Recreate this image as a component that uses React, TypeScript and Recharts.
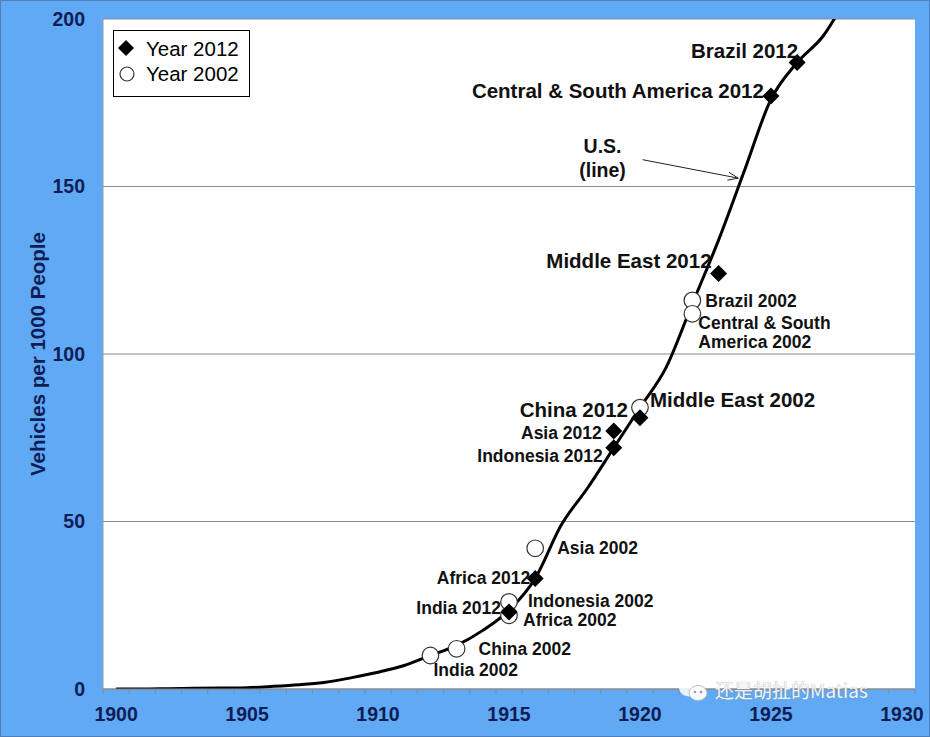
import React from 'react';
import { ComposedChart, Line, Scatter, XAxis, YAxis, CartesianGrid, Legend, ReferenceLine } from 'recharts';

// ---------- data ----------
const usYears = [1900, 1901, 1902, 1903, 1904, 1905, 1906, 1907, 1908, 1909, 1910, 1911, 1912, 1913, 1914, 1915, 1916, 1917, 1918, 1919, 1920, 1921, 1922, 1923, 1924, 1925, 1926, 1927, 1928];
const usValues = [0, 0, 0.1, 0.2, 0.3, 0.4, 0.8, 1.3, 2.0, 3.4, 5.0, 7.0, 10, 13, 17.5, 23.5, 33, 49, 60, 72, 84, 96, 115, 134, 155, 176, 187, 195, 208];

const names2012 = ['Brazil 2012', 'Central & South America 2012', 'Middle East 2012', 'China 2012', 'Asia 2012', 'Indonesia 2012', 'Africa 2012', 'India 2012'];
const years2012 = [1926, 1925, 1923, 1920, 1919, 1919, 1916, 1915];
const values2012 = [187, 177, 124, 81, 77, 72, 33, 23];

const names2002 = ['Brazil 2002', 'Central & South America 2002', 'Middle East 2002', 'Asia 2002', 'Indonesia 2002', 'Africa 2002', 'China 2002', 'India 2002'];
const years2002 = [1922, 1922, 1920, 1916, 1915, 1915, 1913, 1912];
const values2002 = [116, 112, 84, 42, 26, 22, 12, 10];

const xLabelYears = [1900, 1905, 1910, 1915, 1920, 1925, 1930];
const yTicks = [0, 50, 100, 150, 200];
const seriesNames = ['Year 2012', 'Year 2002'];
const yAxisTitle = 'Vehicles per 1000 People';
const annotationLines = ['U.S.', '(line)'];
const annotationFrom = { x: 1920.1, y: 158 };
const annotationTo = { x: 1923.75, y: 152.5 };
const watermark = '还是胡扯的Matias';

// ---------- derived tables ----------
const usData = usYears.map((x, i) => ({ x, y: usValues[i] }));
const data2012 = names2012.map((name, i) => ({ name, x: years2012[i], y: values2012[i] }));
const data2002 = names2002.map((name, i) => ({ name, x: years2002[i], y: values2002[i] }));
const minorTicks: number[] = [];
for (let y = 1899.5; y <= 1930.5; y += 1) minorTicks.push(y);
const allXTicks = [...minorTicks, ...xLabelYears].sort((a, b) => a - b);

// ---------- layout / style ----------
const FONT = '"Liberation Sans", Arial, sans-serif';
const NAVY = '#0f1d55';
const BLUE = '#60a9f4';
const BIG = 20.5;
const SMALL = 17.5;

type LabelLayout = { dx: number; dy: number; anchor: 'start' | 'end'; size: number; wrap?: boolean };
const labelLayout: Record<string, LabelLayout> = {
  'Brazil 2012': { dx: 1, dy: -12, anchor: 'end', size: BIG },
  'Central & South America 2012': { dx: -7, dy: -5, anchor: 'end', size: BIG },
  'Middle East 2012': { dx: -7, dy: -13, anchor: 'end', size: BIG },
  'China 2012': { dx: -12, dy: -8, anchor: 'end', size: BIG },
  'Asia 2012': { dx: -12, dy: 2, anchor: 'end', size: SMALL },
  'Indonesia 2012': { dx: -11, dy: 8, anchor: 'end', size: SMALL },
  'Africa 2012': { dx: -5, dy: -1, anchor: 'end', size: SMALL },
  'India 2012': { dx: -8, dy: -4, anchor: 'end', size: SMALL },
  'Brazil 2002': { dx: 13, dy: 0, anchor: 'start', size: SMALL },
  'Central & South America 2002': { dx: 6, dy: 9, anchor: 'start', size: SMALL, wrap: true },
  'Middle East 2002': { dx: 10, dy: -8, anchor: 'start', size: BIG },
  'Asia 2002': { dx: 22, dy: 0, anchor: 'start', size: SMALL },
  'Indonesia 2002': { dx: 19, dy: -1, anchor: 'start', size: SMALL },
  'Africa 2002': { dx: 14, dy: 5, anchor: 'start', size: SMALL },
  'China 2002': { dx: 22, dy: 0, anchor: 'start', size: SMALL },
  'India 2002': { dx: 3, dy: 14, anchor: 'start', size: SMALL },
};

const PointLabel = ({ cx, cy, name }: { cx: number; cy: number; name: string }) => {
  const l = labelLayout[name];
  if (!l) return null;
  const lines = l.wrap ? name.replace('South ', 'South\n').split('\n') : [name];
  return (
    <text
      x={cx + l.dx}
      y={cy + l.dy}
      textAnchor={l.anchor}
      fontFamily={FONT}
      fontWeight="bold"
      fontSize={l.size}
      fill="#111"
    >
      {lines.map((t, i) => (
        <tspan key={i} x={cx + l.dx} dy={i === 0 ? '0.35em' : 19}>
          {t}
        </tspan>
      ))}
    </text>
  );
};

const DiamondShape = (props: any) => {
  const { cx, cy, payload } = props;
  const r = 8.5;
  return (
    <g>
      <path d={`M${cx},${cy - r}L${cx + r},${cy}L${cx},${cy + r}L${cx - r},${cy}Z`} fill="#000" />
      <PointLabel cx={cx} cy={cy} name={payload.name} />
    </g>
  );
};

const CircleShape = (props: any) => {
  const { cx, cy, payload } = props;
  return (
    <g>
      <circle cx={cx} cy={cy} r={8.3} fill="#fff" stroke="#333" strokeWidth={1.2} />
      <PointLabel cx={cx} cy={cy} name={payload.name} />
    </g>
  );
};

const XTick = (props: any) => {
  const { x, y, payload } = props;
  const v = payload.value;
  if (Number.isInteger(v)) {
    return (
      <text x={x} y={y + 32} textAnchor="middle" fontFamily={FONT} fontWeight="bold" fontSize={19.5} fill={NAVY}>
        {v}
      </text>
    );
  }
  return <line x1={x} x2={x} y1={y} y2={y + 5} stroke="#8a8a8a" strokeWidth={1} />;
};

const ArrowShape = (props: any) => {
  const { x1, y1, x2, y2 } = props;
  const ang = Math.atan2(y2 - y1, x2 - x1);
  const len = 11;
  const a1 = ang + Math.PI - 0.38;
  const a2 = ang + Math.PI + 0.38;
  return (
    <g>
      <line x1={x1} y1={y1} x2={x2} y2={y2} stroke="#222" strokeWidth={1} />
      <line x1={x2} y1={y2} x2={x2 + len * Math.cos(a1)} y2={y2 + len * Math.sin(a1)} stroke="#222" strokeWidth={1} />
      <line x1={x2} y1={y2} x2={x2 + len * Math.cos(a2)} y2={y2 + len * Math.sin(a2)} stroke="#222" strokeWidth={1} />
      <text x={x1 - 40} y={y1 - 14} textAnchor="middle" dominantBaseline="central" fontFamily={FONT} fontWeight="bold" fontSize={19.5} fill="#111">
        {annotationLines[0]}
      </text>
      <text x={x1 - 40} y={y1 + 10} textAnchor="middle" dominantBaseline="central" fontFamily={FONT} fontWeight="bold" fontSize={19.5} fill="#111">
        {annotationLines[1]}
      </text>
    </g>
  );
};

const LegendBox = () => (
  <div
    style={{
      width: 137,
      height: 67,
      boxSizing: 'border-box',
      border: '1px solid #000',
      background: '#fff',
      position: 'relative',
      fontFamily: FONT,
      color: '#000',
    }}
  >
    <svg width={135} height={65} style={{ position: 'absolute', left: 0, top: 0 }}>
      <path d="M12,9L20,17L12,25L4,17Z" fill="#000" />
      <circle cx={13} cy={43} r={7} fill="#fff" stroke="#333" strokeWidth={1.2} />
      <text x={32} y={17} dominantBaseline="central" fontFamily={FONT} fontSize={20.5} fill="#000">
        {seriesNames[0]}
      </text>
      <text x={32} y={42} dominantBaseline="central" fontFamily={FONT} fontSize={20.5} fill="#000">
        {seriesNames[1]}
      </text>
    </svg>
  </div>
);

const YTitle = (props: any) => {
  const vb = props.viewBox || { x: 0, y: 19, width: 103, height: 670 };
  const cx = vb.x + 37;
  const cy = vb.y + vb.height / 2;
  return (
    <text
      x={cx}
      y={cy}
      transform={`rotate(-90, ${cx}, ${cy})`}
      textAnchor="middle"
      dominantBaseline="central"
      fontFamily={FONT}
      fontWeight="bold"
      fontSize={20.5}
      fill={NAVY}
    >
      {yAxisTitle}
    </text>
  );
};

export default function App() {
  return (
    <div
      style={{
        position: 'absolute',
        left: 0,
        top: 0,
        width: 930,
        height: 737,
        background: BLUE,
        boxShadow: 'inset 0 0 0 1px #4d7fb8',
        overflow: 'hidden',
      }}
    >
      <ComposedChart width={930} height={737} margin={{ top: 19, right: 15, bottom: 18, left: 0 }}>
        <CartesianGrid vertical={false} fill="#ffffff" stroke="#8a8a8a" strokeWidth={1} />
        <XAxis
          type="number"
          dataKey="x"
          domain={[1899.5, 1930.5]}
          allowDataOverflow
          ticks={allXTicks}
          interval={0}
          tick={<XTick />}
          tickLine={false}
          tickSize={0}
          tickMargin={0}
          axisLine={{ stroke: '#8a8a8a' }}
          height={30}
        />
        <YAxis
          type="number"
          dataKey="y"
          domain={[0, 200]}
          allowDataOverflow
          ticks={yTicks}
          interval={0}
          width={103}
          tickLine={false}
          tickSize={6}
          tickMargin={12}
          axisLine={{ stroke: '#9a9a9a' }}
          tick={{ fontFamily: FONT, fontWeight: 'bold', fontSize: 19.5, fill: NAVY }}
          label={<YTitle />}
        />
        <Legend
          layout="vertical"
          align="center"
          verticalAlign="middle"
          wrapperStyle={{ top: 30, left: 113, width: 137, height: 67 }}
          content={() => <LegendBox />}
        />
        <Line
          data={usData}
          dataKey="y"
          type="monotone"
          stroke="#000"
          strokeWidth={3}
          dot={false}
          activeDot={false}
          legendType="none"
          isAnimationActive={false}
        />
        <ReferenceLine segment={[annotationFrom, annotationTo]} shape={<ArrowShape />} ifOverflow="visible" />
        <Scatter name={seriesNames[1]} data={data2002} dataKey="y" shape={<CircleShape />} isAnimationActive={false} />
        <Scatter name={seriesNames[0]} data={data2012} dataKey="y" shape={<DiamondShape />} isAnimationActive={false} />
      </ComposedChart>
      <div
        style={{
          position: 'absolute',
          left: 676,
          top: 676,
          display: 'flex',
          alignItems: 'center',
          pointerEvents: 'none',
        }}
      >
        <svg width={36} height={28}>
          <ellipse cx={13} cy={12} rx={10} ry={8.5} fill="#ffffff" opacity={0.85} />
          <ellipse cx={22} cy={17} rx={9} ry={7.5} fill="#ffffff" stroke="#bcbcbc" strokeWidth={1} opacity={0.95} />
          <circle cx={19} cy={16} r={1.3} fill="#9a9a9a" />
          <circle cx={25} cy={16} r={1.3} fill="#9a9a9a" />
        </svg>
        <span
          style={{
            fontFamily: '"Noto Sans CJK SC", "Noto Sans", sans-serif',
            fontSize: 19,
            lineHeight: '22px',
            color: 'rgba(255,255,255,0.92)',
            textShadow: '0 0 1px #8a8a8a',
            marginLeft: 3,
            whiteSpace: 'nowrap',
          }}
        >
          {watermark}
        </span>
      </div>
    </div>
  );
}
